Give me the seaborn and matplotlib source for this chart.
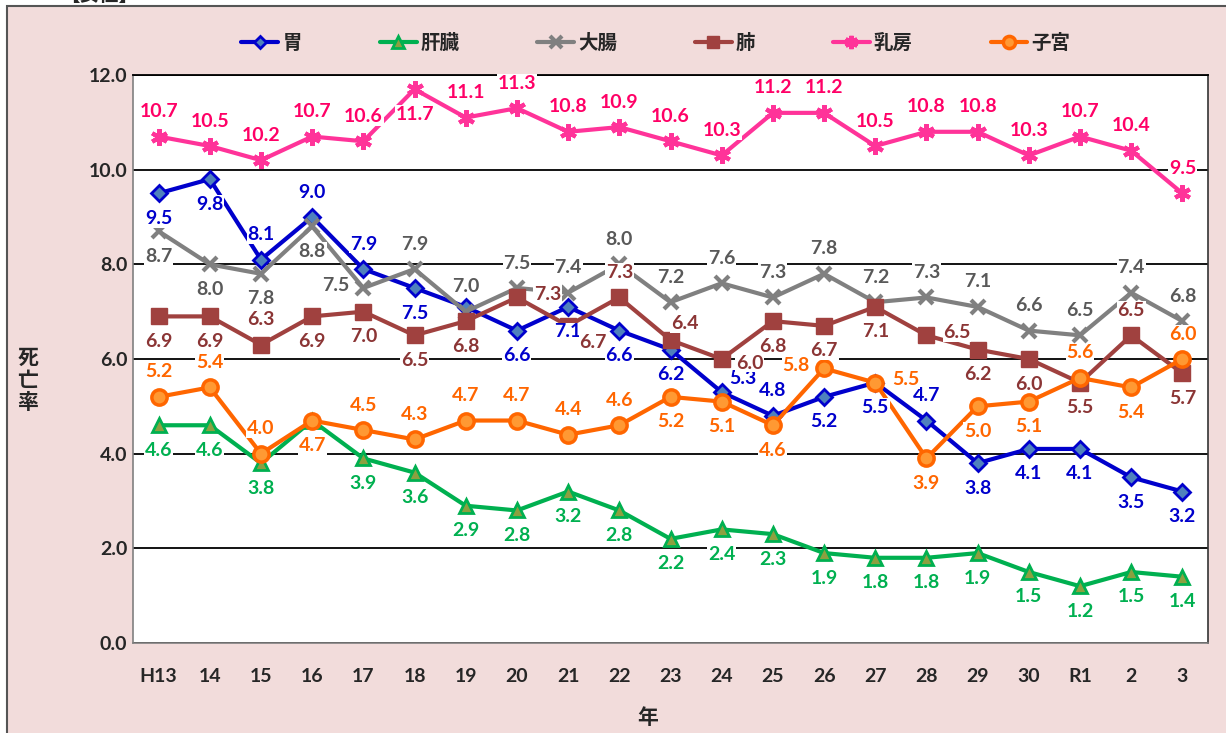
import matplotlib
matplotlib.use("Agg")
import matplotlib.pyplot as plt
import seaborn as sns
import pandas as pd
from matplotlib.patches import Rectangle

# ---------------- data ----------------
years = ["H13", "14", "15", "16", "17", "18", "19", "20", "21", "22", "23",
         "24", "25", "26", "27", "28", "29", "30", "R1", "2", "3"]
stomach = [9.5, 9.8, 8.1, 9.0, 7.9, 7.5, 7.1, 6.6, 7.1, 6.6, 6.2,
           5.3, 4.8, 5.2, 5.5, 4.7, 3.8, 4.1, 4.1, 3.5, 3.2]
liver = [4.6, 4.6, 3.8, 4.7, 3.9, 3.6, 2.9, 2.8, 3.2, 2.8, 2.2,
         2.4, 2.3, 1.9, 1.8, 1.8, 1.9, 1.5, 1.2, 1.5, 1.4]
colon = [8.7, 8.0, 7.8, 8.8, 7.5, 7.9, 7.0, 7.5, 7.4, 8.0, 7.2,
         7.6, 7.3, 7.8, 7.2, 7.3, 7.1, 6.6, 6.5, 7.4, 6.8]
lung = [6.9, 6.9, 6.3, 6.9, 7.0, 6.5, 6.8, 7.3, 6.7, 7.3, 6.4,
        6.0, 6.8, 6.7, 7.1, 6.5, 6.2, 6.0, 5.5, 6.5, 5.7]
breast = [10.7, 10.5, 10.2, 10.7, 10.6, 11.7, 11.1, 11.3, 10.8, 10.9, 10.6,
          10.3, 11.2, 11.2, 10.5, 10.8, 10.8, 10.3, 10.7, 10.4, 9.5]
uterus = [5.2, 5.4, 4.0, 4.7, 4.5, 4.3, 4.7, 4.7, 4.4, 4.6, 5.2,
          5.1, 4.6, 5.8, 5.5, 3.9, 5.0, 5.1, 5.6, 5.4, 6.0]
series_names = ["胃", "肝臓", "大腸", "肺", "乳房", "子宮"]
yticks = [0, 2, 4, 6, 8, 10, 12]

# ---------------- label placement codes (a=above, b=below, l/r=side, n=none) ----------------
place = {
    "胃":   "bbaaabnbbbbuabbabbbbb",
    "肝臓": "bbbnbbbbbbbbbbbbbbbbb",
    "大腸": "bbbblaaaaaaaaaaaaaaaa",
    "肺":   "bbabbbbrRaAsbbbrbbbab",
    "乳房": "aaaaabaaaaaaaaaaaaaaa",
    "子宮": "aaabaaaaaabbblrbbbaba",
}
offsets = {"a": (0, 18), "b": (0, -18), "r": (22, 2), "l": (-20, 2),
           "R": (18, -12), "A": (10, 12), "u": (15, 10), "s": (20, -3)}

styles = {
    "胃":   dict(color="#0000CC", marker="D", ms=8, mfc="#4F81BD", mec="#0000CC", mew=2, lab="#0000CC"),
    "肝臓": dict(color="#00B050", marker="^", ms=10, mfc="#8CA040", mec="#00B050", mew=2, lab="#00B050"),
    "大腸": dict(color="#808080", marker="x", ms=10, mfc="#808080", mec="#808080", mew=3, lab="#595959"),
    "肺":   dict(color="#A0413F", marker="s", ms=11, mfc="#A0413F", mec="#A0413F", mew=1, lab="#8B3535"),
    "乳房": dict(color="#FF3399", marker=(6, 2, 0), ms=12, mfc="#FF3399", mec="#FF3399", mew=3, lab="#FF0066"),
    "子宮": dict(color="#FF6600", marker="o", ms=11, mfc="#FF9933", mec="#FF6600", mew=2.5, lab="#FF6600"),
}

values = {"胃": stomach, "肝臓": liver, "大腸": colon, "肺": lung, "乳房": breast, "子宮": uterus}

sns.set_theme(style="white")
plt.rcParams["font.family"] = ["Lato", "Noto Sans CJK JP", "DejaVu Sans"]

fig = plt.figure(figsize=(12.26, 7.33), dpi=100, facecolor="white")
# outer pink panel
fig.patches.append(Rectangle((7 / 1226, -0.05), 1.1, 1 - 6 / 733 + 0.05, transform=fig.transFigure,
                             facecolor="#F2DCDB", edgecolor="#555555", lw=1.5, zorder=-5))
fig.text(0.081, 1 + 5 / 733, "【女性】", ha="center", va="center", fontsize=14, fontweight="bold",
         family=["Noto Sans CJK JP", "DejaVu Sans"])

ax = fig.add_axes([133 / 1226, 1 - 643 / 733, (1208 - 133) / 1226, (643 - 75) / 733])
ax.set_zorder(2)
ax.set_facecolor("white")

for name in series_names:
    st = styles[name]
    df = pd.DataFrame({"year": years, "v": values[name]})
    sns.lineplot(data=df, x="year", y="v", ax=ax, sort=False, color=st["color"], lw=3,
                 marker=st["marker"], markersize=st["ms"], markerfacecolor=st["mfc"],
                 markeredgecolor=st["mec"], markeredgewidth=st["mew"], label=name, zorder=3)

for name in series_names:
    st = styles[name]
    for i, v in enumerate(values[name]):
        code = place[name][i]
        if code == "n":
            continue
        dx, dy = offsets[code]
        ax.annotate(f"{v:.1f}", (i, v), xytext=(dx, dy), textcoords="offset points",
                    ha="center", va="center", fontsize=14, fontweight="bold", color=st["lab"],
                    bbox=dict(facecolor="white", edgecolor="none", pad=0.5), zorder=4)

ax.set_xlim(-0.5, len(years) - 0.5)
ax.set_ylim(0, 12)
ax.set_yticks(yticks)
ax.set_yticklabels([f"{t:.1f}" for t in yticks], fontsize=14, fontweight="bold")
ax.tick_params(axis="y", length=0, pad=4)
ax.tick_params(axis="x", length=0, pad=18, labelsize=14)
for lbl in ax.get_xticklabels():
    lbl.set_fontweight("bold")
ax.yaxis.grid(True, color="black", lw=1.3)
ax.set_axisbelow(True)
for s in ["left", "bottom", "right"]:
    ax.spines[s].set_color("#808080")
    ax.spines[s].set_linewidth(1.2)
ax.spines["right"].set_color("#333333")
ax.spines["top"].set_color("black")
ax.spines["top"].set_linewidth(1.3)
ax.set_xlabel("")
ax.set_ylabel("")

fig.text(28 / 1226, 1 - 380 / 733, "死\n亡\n率", ha="center", va="center", fontsize=15,
         fontweight="bold", linespacing=1.1, family=["Noto Sans CJK JP", "DejaVu Sans"])
fig.text(648 / 1226, 1 - 718 / 733, "年", ha="center", va="center", fontsize=15,
         fontweight="bold", family=["Noto Sans CJK JP", "DejaVu Sans"])

handles, labels = ax.get_legend_handles_labels()
if ax.legend_ is not None:
    ax.legend_.remove()
leg = fig.legend(handles, labels, loc="center", bbox_to_anchor=(0.535, 1 - 43 / 733), ncol=6,
                 frameon=False, handlelength=1.9, handletextpad=0.2,
                 columnspacing=4.0, markerscale=0.8,
                 prop=dict(family=["Noto Sans CJK JP", "DejaVu Sans"], weight="bold", size=14))

fig.savefig("out.png", dpi=100, facecolor=fig.get_facecolor())
